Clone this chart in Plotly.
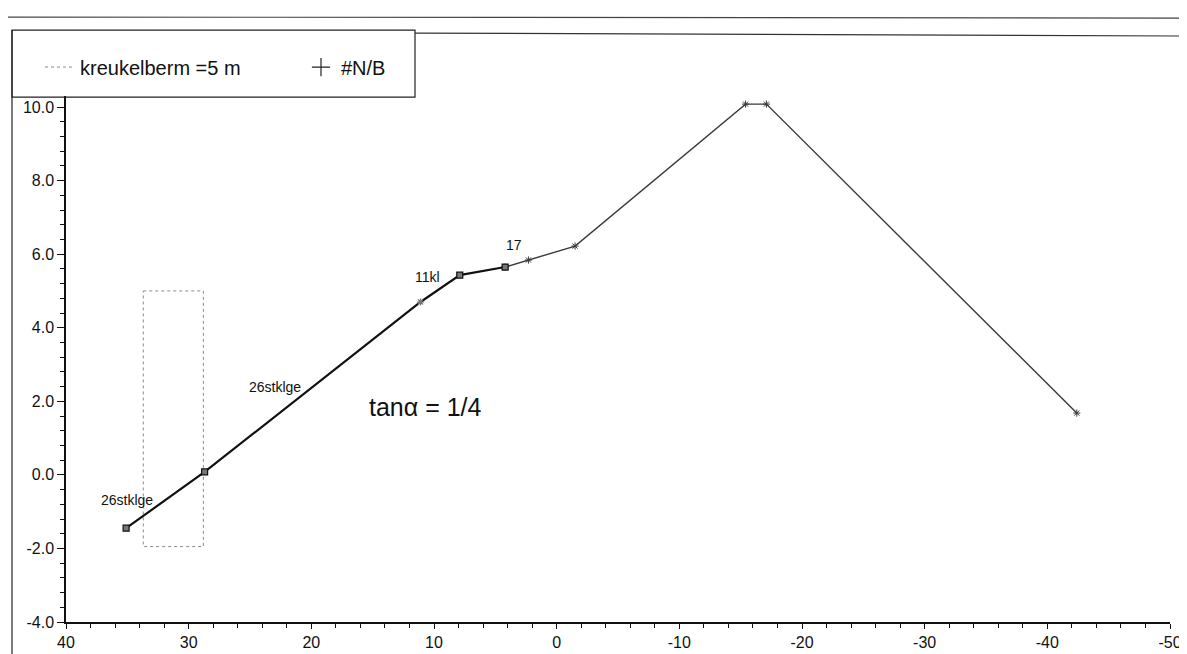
import plotly.graph_objects as go

# ---- data ----
lower_x = [35.1, 28.7, 11.1, 7.9, 4.2]
lower_y = [-1.45, 0.08, 4.70, 5.43, 5.65]
lower_symbols = ["square", "square", "asterisk-open", "square", "square"]

upper_x = [4.2, 2.3, -1.5, -15.4, -17.1, -42.4]
upper_y = [5.65, 5.84, 6.22, 10.08, 10.08, 1.68]

berm_x = [33.7, 28.8, 28.8, 33.7, 33.7]
berm_y = [5.0, 5.0, -1.95, -1.95, 5.0]

label_texts = ["26stklge", "26stklge", "11kl", "17"]
label_x = [35.0, 23.0, 10.5, 3.5]
label_y = [-0.68, 2.39, 5.38, 6.24]

slope_text = "tanα = 1/4"
slope_x, slope_y = 10.7, 1.84

x_ticks = [40, 30, 20, 10, 0, -10, -20, -30, -40, -50]
y_ticks = [-4, -2, 0, 2, 4, 6, 8, 10]
x_ticktext = [str(v) for v in x_ticks]
y_ticktext = [f"{v:.1f}" for v in y_ticks]

X_RANGE = [40, -50]
Y_RANGE = [-4, 10.3]

FONT = "Liberation Sans, Arial, sans-serif"

fig = go.Figure()

fig.add_trace(go.Scatter(
    x=berm_x, y=berm_y, mode="lines", name="kreukelberm =5 m",
    line=dict(color="#8a8a8a", width=1, dash="dot"), showlegend=True,
))
fig.add_trace(go.Scatter(
    x=[None], y=[None], mode="markers", name="#N/B",
    marker=dict(symbol="cross-thin", size=13, line=dict(color="#222", width=1.2)),
    showlegend=True,
))
fig.add_trace(go.Scatter(
    x=upper_x, y=upper_y, mode="lines+markers", showlegend=False,
    line=dict(color="#3a3a3a", width=1.4),
    marker=dict(symbol="asterisk-open", size=6, line=dict(color="#555", width=1)),
    cliponaxis=False,
))
fig.add_trace(go.Scatter(
    x=lower_x, y=lower_y, mode="lines+markers", showlegend=False,
    line=dict(color="#111", width=2.2),
    marker=dict(symbol=lower_symbols, size=6, color="#777",
                line=dict(color="#111", width=1.2)),
    cliponaxis=False,
))

for t, xx, yy in zip(label_texts, label_x, label_y):
    fig.add_annotation(x=xx, y=yy, text=t, showarrow=False,
                       font=dict(family=FONT, size=14, color="#111"))
fig.add_annotation(x=slope_x, y=slope_y, text=slope_text, showarrow=False,
                   font=dict(family=FONT, size=25, color="#111"))

# layout geometry (screen pixels; page body adds an 8px offset)
W, H = 1187, 654
OFF = 8
SX0, SX1 = 66, 1170            # screen x of x=40 and x=-50
SY_TOP10, SY_BOT = 107, 622    # screen y of y=10 and y=-4
ppu = (SY_BOT - SY_TOP10) / (10 - Y_RANGE[0])
SY_TOP = SY_TOP10 - (Y_RANGE[1] - 10) * ppu

def px(xs):
    return (xs - SX0) / (SX1 - SX0)
def py(ys):
    return (SY_BOT - ys) / (SY_BOT - SY_TOP)

shapes = [
    # legend box
    dict(type="rect", xref="paper", yref="paper", x0=px(12), x1=px(415),
         y0=py(97), y1=py(30), line=dict(color="#222", width=1.2)),
    # outer frame left & top
    dict(type="line", xref="paper", yref="paper", x0=px(12), x1=px(12),
         y0=py(660), y1=py(30), line=dict(color="#222", width=1.2)),
    dict(type="line", xref="paper", yref="paper", x0=px(415), x1=px(1195),
         y0=py(33), y1=py(36), line=dict(color="#333", width=1.2)),
    # page rule at top
    dict(type="line", xref="paper", yref="paper", x0=px(-10), x1=px(1195),
         y0=py(17), y1=py(18), line=dict(color="#444", width=1.2)),
]

fig.update_layout(
    width=W, height=H,
    margin=dict(l=SX0 - OFF, r=W - (SX1 - OFF), t=SY_TOP - OFF, b=H - (SY_BOT - OFF)),
    paper_bgcolor="white", plot_bgcolor="white",
    font=dict(family=FONT, size=16, color="#111"),
    showlegend=True,
    legend=dict(orientation="h", x=px(40), xanchor="left", y=py(67),
                yanchor="middle", bgcolor="rgba(0,0,0,0)", borderwidth=0,
                font=dict(family=FONT, size=20, color="#111"),
                entrywidth=216, entrywidthmode="pixels"),
    shapes=shapes,
    xaxis=dict(range=X_RANGE, tickvals=x_ticks, ticktext=x_ticktext,
               ticks="outside", ticklen=5, automargin=False,
               tickcolor="#111", showline=True, linecolor="#111", linewidth=1.5,
               showgrid=False, zeroline=False,
               minor=dict(dtick=2, ticks="outside", ticklen=4, tickcolor="#111"),
               tickfont=dict(family=FONT, size=16, color="#111")),
    yaxis=dict(range=Y_RANGE, tickvals=y_ticks, ticktext=y_ticktext,
               ticks="outside", automargin=False,
               ticklen=7, tickcolor="#111", showline=True, linecolor="#111",
               linewidth=1.5, showgrid=False, zeroline=False,
               minor=dict(dtick=0.4, ticks="outside", ticklen=4, tickcolor="#111"),
               tickfont=dict(family=FONT, size=16, color="#111")),
)

fig.write_html("out.html")
